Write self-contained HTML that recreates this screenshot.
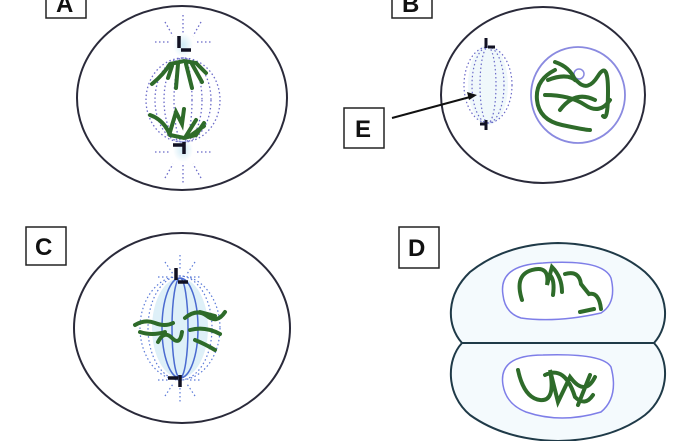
<!DOCTYPE html>
<html><head><style>
html,body{margin:0;padding:0;background:#fff;width:700px;height:441px;overflow:hidden}
.lb{font-family:"Liberation Sans",sans-serif;font-weight:bold;font-size:24px;fill:#111}
</style></head><body>
<svg width="700" height="441" viewBox="0 0 700 441" xmlns="http://www.w3.org/2000/svg">
<defs>
<radialGradient id="gl"><stop offset="0" stop-color="#cfeaf5"/><stop offset="1" stop-color="#cfeaf5" stop-opacity="0"/></radialGradient>
</defs>
<!-- A -->
<rect x="46" y="-10" width="40" height="28" fill="#fff" stroke="#222" stroke-width="1.5"/>
<text x="56" y="12" class="lb">A</text>
<ellipse cx="182" cy="98" rx="105" ry="92" fill="#fff" stroke="#2a2a3a" stroke-width="2"/>
<g fill="none" stroke="#6a6ac8" stroke-width="1.3" stroke-dasharray="1.5 2.5">
<ellipse cx="183" cy="100" rx="37" ry="42"/><ellipse cx="183" cy="100" rx="28" ry="42"/>
<ellipse cx="183" cy="100" rx="19" ry="42"/><ellipse cx="183" cy="100" rx="9" ry="42"/>
<path d="M183 15v20M165 22l8 14M201 22l-8 14M155 42h14M197 42h14M183 165v20M165 178l8-14M201 178l-8-14M155 152h14M197 152h14"/>
</g>
<ellipse cx="183" cy="45" rx="10" ry="12" fill="url(#gl)"/><ellipse cx="183" cy="150" rx="10" ry="12" fill="url(#gl)"/>
<path d="M179 36v12M181 50h10M173 145h10M184 142v12" stroke="#112" stroke-width="3.5" fill="none"/>
<g fill="none" stroke="#2e6b2a" stroke-width="4" stroke-linecap="round">
<path d="M152 84q12-10 18-20l14-3 12 2 10 10"/><path d="M172 66l-4 12M178 64l-2 24M186 64l6 24M192 64l10 18"/>
<path d="M150 115q14 5 20 20l14 3 12-3 8-12"/><path d="M170 132l6-20 6 12 2-15M186 136l10-16M190 136l14-10"/>
</g>
<!-- B -->
<rect x="392" y="-10" width="40" height="28" fill="#fff" stroke="#222" stroke-width="1.5"/>
<text x="402" y="12" class="lb">B</text>
<ellipse cx="543" cy="95" rx="102" ry="88" fill="#fff" stroke="#2a2a3a" stroke-width="2"/>
<ellipse cx="488" cy="85" rx="20" ry="40" fill="#eaf5fa" opacity="0.7"/>
<g fill="none" stroke="#6a6ac8" stroke-width="1.2" stroke-dasharray="1.5 2.5">
<ellipse cx="488" cy="85" rx="8" ry="38"/><ellipse cx="488" cy="85" rx="16" ry="38"/><ellipse cx="488" cy="85" rx="24" ry="38"/>
</g>
<path d="M486 38v10M488 47h7M480 124h7M486 120v10" stroke="#112" stroke-width="3" fill="none"/>
<ellipse cx="578" cy="95" rx="47" ry="48" fill="#fff" stroke="#8a8ae0" stroke-width="1.8"/>
<circle cx="579" cy="74" r="5" fill="none" stroke="#8a8ae0" stroke-width="1.5"/>
<g fill="none" stroke="#2e6b2a" stroke-width="4" stroke-linecap="round">
<path d="M555 70q-20 10-18 30t25 25 28 5"/><path d="M548 80q20-8 30 2t20-6 10 15-5 25"/>
<path d="M545 95q25 0 40 10t25-5"/><path d="M560 110q15-20 35-10"/><path d="M555 62q15 5 20 18"/>
</g>
<rect x="344" y="108" width="40" height="40" fill="#fff" stroke="#222" stroke-width="1.5"/>
<text x="355" y="137" class="lb">E</text>
<line x1="392" y1="118" x2="470" y2="97" stroke="#111" stroke-width="2"/>
<path d="M477 95l-10-3 2 8z" fill="#111"/>
<!-- C -->
<rect x="26" y="227" width="40" height="38" fill="#fff" stroke="#222" stroke-width="1.5"/>
<text x="35" y="255" class="lb">C</text>
<ellipse cx="182" cy="328" rx="108" ry="95" fill="#fff" stroke="#2a2a3a" stroke-width="2"/>
<ellipse cx="180" cy="328" rx="28" ry="50" fill="#d6ecf6" opacity="0.8"/>
<g fill="none" stroke="#5a7ad8" stroke-width="1.2" stroke-dasharray="1.5 2.5">
<ellipse cx="180" cy="328" rx="40" ry="52"/><ellipse cx="180" cy="328" rx="32" ry="52"/>
<path d="M180 255v15M165 262l8 12M195 262l-8 12M180 388v15M165 396l8-12M195 396l-8-12M158 277h12M190 277h12M158 380h12M190 380h12"/>
</g>
<g fill="none" stroke="#4a6ad0" stroke-width="1.5">
<ellipse cx="180" cy="328" rx="18" ry="50"/><ellipse cx="180" cy="328" rx="8" ry="50"/>
</g>
<path d="M176 268v12M178 282h10M168 378h10M180 375v12" stroke="#112" stroke-width="3.5" fill="none"/>
<g fill="none" stroke="#2e6b2a" stroke-width="4" stroke-linecap="round">
<path d="M135 325q10-6 20-2t18 0"/><path d="M140 332q12 4 25 0"/><path d="M158 342q6-12 14-4t10-6"/>
<path d="M185 318q12-10 22-2t18-4"/><path d="M190 330q15-4 30 4"/><path d="M195 340q10 4 20 10"/><path d="M200 312l15 4"/>
</g>
<!-- D -->
<rect x="399" y="227" width="40" height="41" fill="#fff" stroke="#222" stroke-width="1.5"/>
<text x="408" y="256" class="lb">D</text>
<path d="M462 343C446 325 446 295 470 272Q505 244 558 243Q612 244 645 272C670 295 670 325 654 343Z" fill="#f4fafd" stroke="#1f3a48" stroke-width="2"/>
<path d="M462 343C446 360 446 395 470 415Q505 440 558 441Q612 440 645 415C670 395 670 360 654 343Z" fill="#f4fafd" stroke="#1f3a48" stroke-width="2"/>
<path d="M503 295q-5-30 40-32 60-4 68 15 6 25-10 35-45 10-80 5-16-5-18-23z" fill="#fff" stroke="#7e7ee8" stroke-width="1.5"/>
<path d="M503 385q-5-30 40-30 60-2 68 12 8 30-10 45-40 12-75 0-20-8-23-27z" fill="#fff" stroke="#7e7ee8" stroke-width="1.5"/>
<g fill="none" stroke="#2e6b2a" stroke-width="4" stroke-linecap="round">
<path d="M522 300q-8-25 10-30t15 15l5-18q10 10 10 25M550 275q5 5 3 20M565 274q14-4 16 10l8 10q10-2 12 15"/><path d="M580 312l14-3"/>
<path d="M518 370q6 28 22 30t10-30l8 32 12-25q15 20 25 0M545 375q20-10 30 22 10 10 18-2M590 375l-12 30"/>
</g>
</svg>
</body></html>
